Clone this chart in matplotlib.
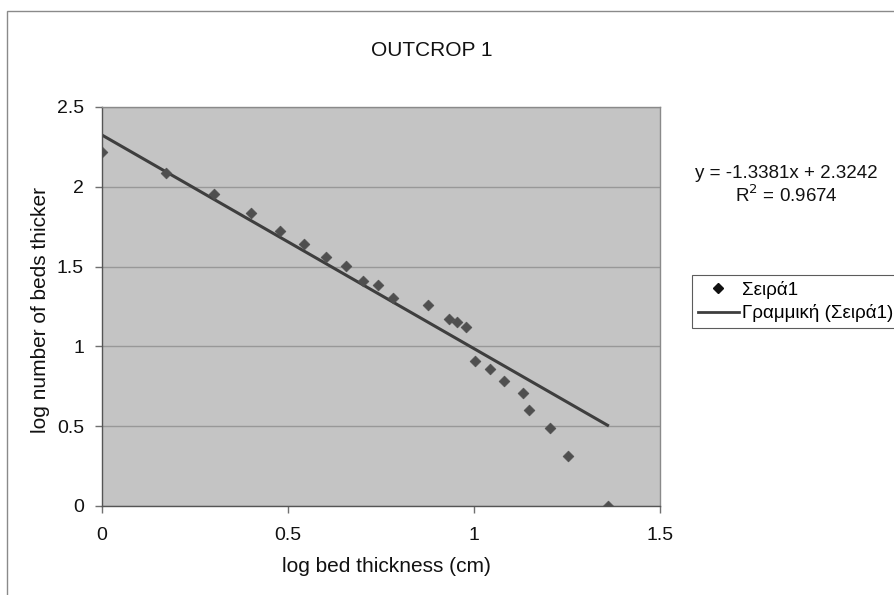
import matplotlib
matplotlib.use("Agg")
import matplotlib.pyplot as plt
from matplotlib.patches import Rectangle
from matplotlib.lines import Line2D

plt.rcParams['font.family'] = ['Liberation Sans', 'DejaVu Sans']

# Data
log_thickness = [0.0, 0.1725, 0.301, 0.40, 0.479, 0.543, 0.602, 0.655, 0.702, 0.742,
                 0.781, 0.876, 0.932, 0.954, 0.979, 1.003, 1.042, 1.080, 1.131, 1.149,
                 1.203, 1.254, 1.359]
log_count = [2.219, 2.084, 1.954, 1.834, 1.725, 1.642, 1.5625, 1.504, 1.41, 1.386,
             1.302, 1.261, 1.173, 1.15, 1.119, 0.911, 0.859, 0.781, 0.709, 0.604,
             0.486, 0.312, 0.0]
slope = -1.3381
intercept = 2.3242
r2 = 0.9674
x_ticks = [0, 0.5, 1, 1.5]
y_ticks = [0, 0.5, 1, 1.5, 2, 2.5]

W, H = 894, 595
fig = plt.figure(figsize=(W / 100, H / 100), dpi=100)
fig.patch.set_facecolor('white')

# outer chart frame
fig.patches.append(Rectangle((7 / W, -0.05), 1.2, 1 - 11 / H + 0.05,
                             transform=fig.transFigure, fill=False,
                             edgecolor='#8a8a8a', linewidth=1.0))

ax = fig.add_axes([102 / W, 1 - 506 / H, (660 - 102) / W, (506 - 107) / H])
ax.set_facecolor('#c4c4c4')
ax.set_xlim(0, 1.5)
ax.set_ylim(0, 2.5)
ax.set_xticks(x_ticks)
ax.set_xticklabels(['0', '0.5', '1', '1.5'])
ax.set_yticks(y_ticks)
ax.set_yticklabels(['0', '0.5', '1', '1.5', '2', '2.5'])
ax.yaxis.grid(True, color='#989898', linewidth=1.0)
ax.set_axisbelow(True)
for s in ax.spines.values():
    s.set_color('#8a8a8a')
    s.set_linewidth(1.0)
ax.spines['bottom'].set_color('#555555')
ax.spines['left'].set_color('#555555')
ax.tick_params(axis='both', direction='out', length=5, width=1, color='#707070',
               labelsize=14, labelcolor='#111111')
ax.tick_params(axis='x', pad=10)
ax.tick_params(axis='y', pad=8)

ax.scatter(log_thickness, log_count, marker='D', s=30, color='#4f4f4f',
           edgecolors='#4f4f4f', linewidths=0.5, zorder=3)
x0, x1 = min(log_thickness), max(log_thickness)
ax.plot([x0, x1], [slope * x0 + intercept, slope * x1 + intercept],
        color='#3e3e3e', linewidth=2.2, zorder=2)

fig.text(386 / W, 1 - 566 / H, 'log bed thickness (cm)', fontsize=15,
         ha='center', va='center', color='#111111')
fig.text(41 / W, 1 - 310 / H, 'log number of beds thicker', fontsize=15,
         rotation=90, ha='center', va='center', color='#111111')

fig.text(432 / W, 1 - 50 / H, 'OUTCROP 1', fontsize=15, ha='center', va='center',
         color='#111111')

fig.text(786 / W, 1 - 173 / H, f'y = {slope}x + {intercept}', fontsize=13.5,
         ha='center', va='center', color='#111111')
fig.text(786 / W, 1 - 195 / H, f'R$^2$ = {r2}', fontsize=13.5,
         ha='center', va='center', color='#111111')

handles = [Line2D([], [], marker='D', linestyle='none', color='#111111', markersize=5),
           Line2D([], [], color='#3e3e3e', linewidth=2.0)]
leg = fig.legend(handles, ['Σειρά1', 'Γραμμική (Σειρά1)'], loc='upper left',
                 bbox_to_anchor=(692 / W, 1 - 275 / H), fontsize=13.5, frameon=True,
                 fancybox=False, edgecolor='#333333', borderpad=0.3,
                 handlelength=2.2, handletextpad=0.15, labelspacing=0.3,
                 borderaxespad=0)
leg.get_frame().set_linewidth(0.8)

fig.savefig('out.png', dpi=100)
